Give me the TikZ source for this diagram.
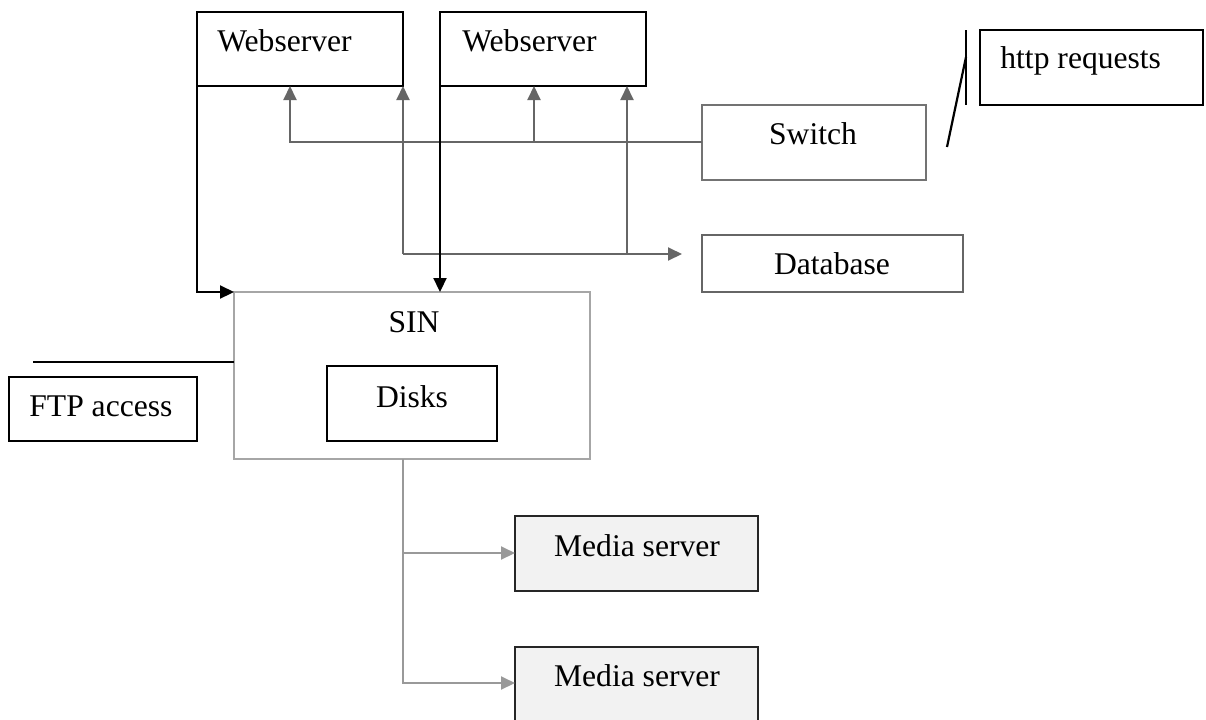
\documentclass[tikz,border=0pt]{standalone}
\usepackage{fontspec}
\setmainfont{Liberation Serif}
\usetikzlibrary{arrows.meta}
\begin{document}
\begin{tikzpicture}[x=0.5pt,y=-0.5pt,
  box/.style={draw=black,line width=1pt,minimum width=#1,inner sep=0pt,outer sep=0pt},
  lbl/.style={inner sep=0pt,font=\fontsize{15.8}{18}\selectfont},
  grayline/.style={draw=black!60,line width=1pt},
  darkline/.style={draw=black,line width=1.1pt},
  lightline/.style={draw=black!40,line width=1pt},
  gtip/.style={-{Triangle[length=7pt,width=6.5pt]}},
  btip/.style={-{Triangle[length=7pt,width=6.5pt]}}
]
\clip (0,0) rectangle (1206,719);
\fill[white] (0,0) rectangle (1206,719);
% boxes
\node[box=103pt,minimum height=37pt] (ws1) at (300,49) {};
\node[box=103pt,minimum height=37pt] (ws2) at (543,49) {};
\node[box=112pt,minimum height=37.5pt,draw=black!55] (sw) at (814,142) {};
\node[box=130.5pt,minimum height=28.5pt,draw=black!60] (db) at (832.5,263.5) {};
\node[box=111.5pt,minimum height=37.5pt] (http) at (1091.5,67.5) {};
\node[box=178pt,minimum height=83.5pt,draw=black!35] (sin) at (412,375.5) {};
\node[box=85pt,minimum height=37.5pt] (disks) at (412,403.5) {};
\node[box=94pt,minimum height=32pt] (ftp) at (103,409) {};
\node[box=121.5pt,minimum height=37.5pt,fill=black!5,draw=black!85] (ms1) at (636.5,553.5) {};
\node[box=121.5pt,minimum height=37.5pt,fill=black!5,draw=black!85] (ms2) at (636.5,684.5) {};
% labels
\node[lbl,anchor=base west] (t1) at (217,51) {Webserver};
\node[lbl,anchor=base west] (t2) at (462,51) {Webserver};
\node[lbl,anchor=base] (t3) at (813,144) {Switch};
\node[lbl,anchor=base] (t4) at (832,274) {Database};
\node[lbl,anchor=base west] (t5) at (1000,68) {http requests};
\node[lbl,anchor=base] (t6) at (414,332) {SIN};
\node[lbl,anchor=base] (t7) at (412,407) {Disks};
\node[lbl,anchor=base west] (t8) at (29,416) {FTP access};
\node[lbl,anchor=base] (t9) at (637,556) {Media server};
\node[lbl,anchor=base] (t10) at (637,686) {Media server};
% switch to webservers
\coordinate (s1) at (290,142);
\coordinate (s2) at (534,142);
\draw[grayline,gtip] (sw.west) -- (s1) -- (ws1.south -| s1);
\draw[grayline,gtip] (s2) -- (ws2.south -| s2);
% webservers to database
\coordinate (d1) at (403,254);
\coordinate (d2) at (627,254);
\coordinate (d3) at (682,254);
\draw[grayline,gtip] (d1) -- (d3);
\draw[grayline,gtip] (d1) -- (ws1.south -| d1);
\draw[grayline,gtip] (d2) -- (ws2.south -| d2);
% webservers to SIN
\coordinate (b1) at (197,292);
\draw[darkline,btip] (ws1.south west) -- (b1) -- (sin.north west);
\draw[darkline,btip] (ws2.south west) -- (sin.north -| ws2.south west);
% SIN to media servers
\coordinate (m0) at (403,459);
\coordinate (m1) at (403,553);
\coordinate (m2) at (403,683);
\draw[lightline,gtip] (m0) -- (m2) -- (ms2.west |- m2);
\draw[lightline,gtip] (m1) -- (ms1.west |- m1);
% FTP line
\coordinate (f0) at (33,362);
\draw[darkline] (f0) -- (sin.west |- f0);
% http lines
\coordinate (h0) at (966,30);
\coordinate (h1) at (966,105);
\coordinate (h2) at (947,147);
\coordinate (h3) at (966,57);
\draw[darkline] (h0) -- (h1);
\draw[darkline] (h2) -- (h3);
\end{tikzpicture}
\end{document}
